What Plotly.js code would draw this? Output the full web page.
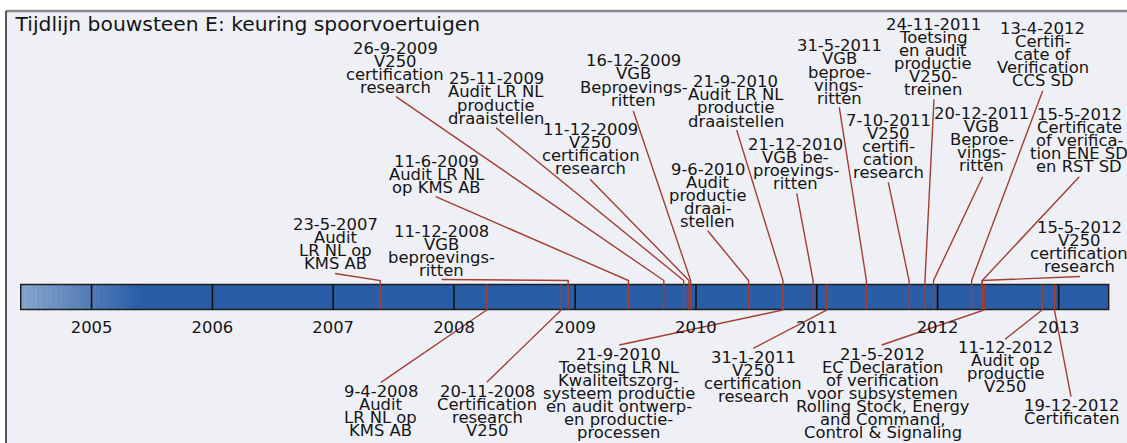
<!DOCTYPE html>
<html><head><meta charset="utf-8">
<script src="https://cdn.plot.ly/plotly-3.0.1.min.js"></script>
<style>html,body{margin:0;padding:0;background:#fff}#chart{width:1127px;height:443px}</style>
</head><body><div id="chart"></div>
<script>
// ---------------- data ----------------
const chartTitle = 'Tijdlijn bouwsteen E: keuring spoorvoertuigen';
const periodStart = '2004-06-01';
const periodEnd = '2013-06-01';
const yearTicks = ['2005-01-01','2006-01-01','2007-01-01','2008-01-01','2009-01-01','2010-01-01','2011-01-01','2012-01-01','2013-01-01'];
const yearLabels = ['2005','2006','2007','2008','2009','2010','2011','2012','2013'];

const topDates = ['2007-05-23','2008-12-11','2009-06-11','2009-09-26','2009-11-25','2009-12-11','2009-12-16',
  '2010-06-09','2010-09-21','2010-12-21','2011-05-31','2011-10-07','2011-11-24','2011-12-20',
  '2012-04-13','2012-05-15','2012-05-15'];
const topTexts = [
  '23-5-2007<br>Audit<br>LR NL op<br>KMS AB',
  '11-12-2008<br>VGB<br>beproevings-<br>ritten',
  '11-6-2009<br>Audit LR NL<br>op KMS AB',
  '26-9-2009<br>V250<br>certification<br>research',
  '25-11-2009<br>Audit LR NL<br>productie<br>draaistellen',
  '11-12-2009<br>V250<br>certification<br>research',
  '16-12-2009<br>VGB<br>Beproevings-<br>ritten',
  '9-6-2010<br>Audit<br>productie<br>draai-<br>stellen',
  '21-9-2010<br>Audit LR NL<br>productie<br>draaistellen',
  '21-12-2010<br>VGB be-<br>proevings-<br>ritten',
  '31-5-2011<br>VGB<br>beproe-<br>vings-<br>ritten',
  '7-10-2011<br>V250<br>certifi-<br>cation<br>research',
  '24-11-2011<br>Toetsing<br>en audit<br>productie<br>V250-<br>treinen',
  '20-12-2011<br>VGB<br>Beproe-<br>vings-<br>ritten',
  '13-4-2012<br>Certifi-<br>cate of<br>Verification<br>CCS SD',
  '15-5-2012<br>Certificate<br>of verifica-<br>tion ENE SD<br>en RST SD',
  '15-5-2012<br>V250<br>certification<br>research'
];

const bottomDates = ['2008-04-09','2008-11-20','2010-09-21','2011-01-31','2012-05-21','2012-11-12','2012-12-19'];
const bottomTexts = [
  '9-4-2008<br>Audit<br>LR NL op<br>KMS AB',
  '20-11-2008<br>Certification<br>research<br>V250',
  '21-9-2010<br>Toetsing LR NL<br>Kwaliteitszorg-<br>systeem productie<br>en audit ontwerp-<br>en productie-<br>processen',
  '31-1-2011<br>V250<br>certification<br>research',
  '21-5-2012<br>EC Declaration<br>of verification<br>voor subsystemen<br>Rolling Stock, Energy<br>and Command,<br>Control &amp; Signaling',
  '11-12-2012<br>Audit op<br>productie<br>V250',
  '19-12-2012<br>Certificaten'
];

// ---------------- layout placement (pixels: label centre x, first line y, leader start x, y) ----------------
const topPlace = [
  [335.5,224,335,273.5],[441.7,231,441.7,279.5],[436.7,161,435.7,196.7],[395,48.5,396,96.7],
  [496,78.8,496,127.7],[590.7,129,590,179.3],[633.7,60.8,633.3,111],[707.5,169,707.7,230.7],
  [735.8,81.7,736.7,130],[795.5,144,796.7,193.3],[839,45.8,839.3,107.3],[888,120,888.3,182.3],
  [933.3,24,934,99.3],[981.8,113.5,982.7,176.7],[1042.5,28.5,1042.7,90.7],[1079,114.2,1079.3,176.7],
  [1079,227,1080,276.5]
];
const bottomPlace = [
  [380.8,391,381,382.3],[487.2,391,486.7,382.3],[618.5,354,619.3,345],[753,357,753.3,348.3],
  [882.5,354,881.7,345],[1005.8,347.5,1005,339.3],[1071.7,405,1071,396.7]
];

const FONT = 'DejaVu Sans';
const TXT = '#151515';
const LEAD = 'rgb(163,62,52)';
const LINE_H = 13.1;
const PX_L = 6, PX_R = 1127;
const T0 = Date.parse('2004-04-17T10:00:00Z'), T1 = Date.parse('2013-07-26T10:00:00Z');
const pxToX = px => T0 + (px - PX_L) / (PX_R - PX_L) * (T1 - T0);
const BAR_TOP = 284.5, BAR_BOT = 309.5, TICK_TOP = 280.5;

const annotations = [];
function addLabel(text, cx, y0) {
  text.split('<br>').forEach((ln, i) => {
    annotations.push({x: pxToX(cx), y: y0 + i * LINE_H, xref: 'x', yref: 'y', text: ln, showarrow: false,
      xanchor: 'center', yanchor: 'middle', font: {family: FONT, size: 16.4, color: TXT}});
  });
}
const lx = [], ly = [];
topDates.forEach((d, i) => {
  const p = topPlace[i];
  addLabel(topTexts[i], p[0], p[1]);
  lx.push(pxToX(p[2]), d, d, null); ly.push(p[3], TICK_TOP, BAR_BOT, null);
});
bottomDates.forEach((d, i) => {
  const p = bottomPlace[i];
  addLabel(bottomTexts[i], p[0], p[1]);
  lx.push(d, d, pxToX(p[2]), null); ly.push(BAR_TOP, BAR_BOT + 0.5, p[3], null);
});

// bar shapes
const shapes = [];
shapes.push({type: 'rect', xref: 'x', yref: 'y', x0: periodStart, x1: periodEnd, y0: BAR_TOP, y1: BAR_BOT,
  fillcolor: 'rgb(41,93,166)', line: {width: 0}, layer: 'below'});
const gStart = Date.parse(periodStart + 'T00:00:00Z');
const gEnd = Date.parse('2005-06-01T00:00:00Z');
const N = 48, c0 = [140,167,207], c1 = [41,93,166];
for (let k = 0; k < N; k++) {
  const f = (k + 0.5) / N;
  const c = c0.map((v, j) => Math.round(v + (c1[j] - v) * f));
  shapes.push({type: 'rect', xref: 'x', yref: 'y', x0: gStart + (gEnd - gStart) * k / N,
    x1: gStart + (gEnd - gStart) * (k + 1) / N + 86400000, y0: BAR_TOP, y1: BAR_BOT,
    fillcolor: 'rgb(' + c.join(',') + ')', line: {width: 0}, layer: 'below'});
}
yearTicks.forEach(t => shapes.push({type: 'line', xref: 'x', yref: 'y', x0: t, x1: t, y0: BAR_TOP, y1: BAR_BOT,
  line: {color: '#111', width: 1.6}, layer: 'below'}));
shapes.push({type: 'rect', xref: 'x', yref: 'y', x0: periodStart, x1: periodEnd, y0: BAR_TOP, y1: BAR_BOT,
  fillcolor: 'rgba(0,0,0,0)', line: {color: '#1e1e1e', width: 1.5}, layer: 'below'});
// frame
shapes.push({type: 'line', xref: 'paper', yref: 'paper', x0: 0, x1: 1, y0: 1, y1: 1, line: {color: '#888', width: 2.5}});
shapes.push({type: 'line', xref: 'paper', yref: 'paper', x0: 0, x1: 0, y0: 0, y1: 1, line: {color: '#222', width: 1.5}});

const traces = [{x: lx, y: ly, type: 'scatter', mode: 'lines', line: {color: LEAD, width: 1.4},
  hoverinfo: 'skip', showlegend: false, connectgaps: false}];

const layout = {
  width: 1127, height: 443,
  margin: {l: PX_L, r: 0, t: 11, b: 0},
  paper_bgcolor: '#ffffff', plot_bgcolor: '#eef0f5',
  showlegend: false,
  title: {text: chartTitle, x: 15.5 / 1127, xanchor: 'left', xref: 'container',
    y: 1 - 24 / 443, yanchor: 'middle', yref: 'container', font: {family: FONT, size: 20.3, color: TXT}},
  xaxis: {type: 'date', range: [T0, T1], showgrid: false, zeroline: false, showline: false, ticks: '',
    tickmode: 'array', tickvals: yearTicks, ticktext: yearLabels, anchor: 'free',
    position: (443 - 316) / 432, tickfont: {family: FONT, size: 16.4, color: TXT}, fixedrange: true},
  yaxis: {range: [443, 11], visible: false, fixedrange: true},
  shapes: shapes,
  annotations: annotations
};
Plotly.newPlot('chart', traces, layout, {displayModeBar: false, staticPlot: true});
</script></body></html>
